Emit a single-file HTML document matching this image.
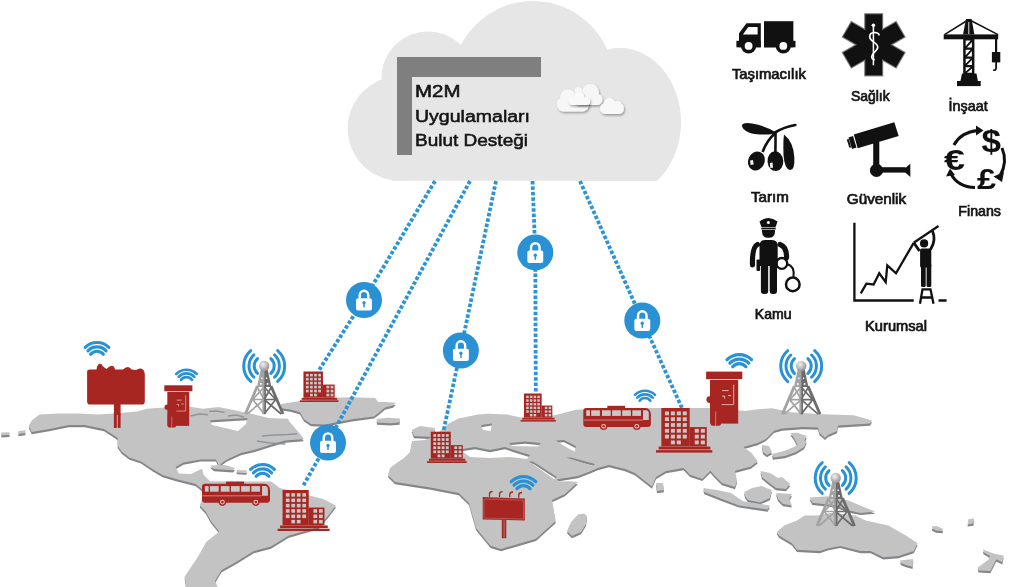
<!DOCTYPE html><html><head><meta charset="utf-8"><style>html,body{margin:0;padding:0;background:#fff;overflow:hidden}svg{display:block;will-change:transform}</style></head><body><svg width="1024" height="587" viewBox="0 0 1024 587"><defs><mask id="mholes" maskUnits="userSpaceOnUse" x="-10" y="300" width="1050" height="300">
<rect x="-10" y="300" width="1050" height="300" fill="#fff"/><path d="M210.0,420.3 L230.0,419.0 L247.5,418.0 L246.0,424.0 L238.0,431.0 L225.0,428.0 L212.0,425.0 Z M462.0,449.0 L475.0,447.0 L490.0,450.0 L505.0,447.0 L520.0,452.0 L530.0,455.0 L527.0,459.0 L510.0,457.0 L490.0,458.0 L470.0,457.0 L463.0,452.0 Z M509.0,443.0 L525.0,441.5 L540.6,443.0 L538.0,446.5 L512.0,446.0 Z M556.0,440.5 L564.0,440.0 L575.8,446.0 L575.0,451.8 L566.0,447.0 Z M529.0,461.5 L533.0,461.5 L557.0,477.0 L554.0,479.0 Z M566.0,457.5 L571.0,457.5 L595.0,464.0 L593.0,466.0 Z M481.0,425.0 L492.0,423.4 L491.0,431.0 L483.0,430.0 Z M556.0,479.5 L578.0,476.0 L594.0,470.0 L580.0,481.0 L560.0,481.5 Z" fill="#000"/></mask>
<g id="land" mask="url(#mholes)"><path d="M31.7,420.4 L39.5,414.5 L59.0,413.6 L78.6,413.6 L98.0,414.5 L113.8,413.6 L137.0,411.6 L147.0,408.7 L160.6,407.7 L190.0,406.7 L203.0,408.8 L218.8,407.0 L250.0,413.4 L268.8,418.0 L288.0,418.8 L289.7,421.9 L300.6,434.4 L303.8,439.0 L285.0,440.6 L269.0,445.3 L253.8,450.0 L241.0,453.0 L227.0,459.4 L222.5,462.5 L219.0,466.0 L216.0,459.4 L200.6,459.4 L183.4,462.5 L175.6,467.0 L178.8,473.4 L191.0,474.0 L202.0,468.8 L203.8,475.0 L210.0,481.2 L271.0,481.6 L279.8,488.0 L323.0,499.0 L336.0,505.4 L329.5,514.0 L318.7,527.0 L288.4,535.7 L271.0,546.5 L253.8,551.0 L236.5,561.7 L221.4,570.3 L215.0,581.0 L219.0,590.0 L186.8,590.0 L184.6,576.8 L197.6,557.3 L206.0,542.2 L219.2,531.4 L210.6,520.6 L206.0,512.0 L199.8,505.4 L202.0,499.0 L203.0,490.0 L195.8,484.0 L176.0,479.0 L162.6,475.0 L152.8,469.2 L141.0,461.4 L129.4,457.5 L121.6,451.6 L117.7,445.8 L117.7,438.0 L111.8,434.0 L104.0,429.0 L84.5,425.0 L68.8,425.0 L49.3,429.0 L31.7,432.0 L28.8,426.0 Z M281.0,404.0 L297.0,401.4 L324.7,398.0 L352.0,397.3 L375.3,398.0 L378.0,402.0 L386.0,402.0 L395.8,402.8 L393.0,405.5 L385.0,407.6 L379.4,412.3 L374.0,416.4 L352.0,419.2 L338.0,422.0 L324.7,424.6 L311.0,424.0 L304.0,419.2 L300.0,412.3 L290.5,409.6 L281.0,408.2 Z M376.6,419.0 L388.0,417.8 L400.0,418.5 L399.5,422.5 L390.0,423.3 L377.0,422.5 Z M1.3,432.6 L9.5,432.2 L9.5,434.8 L1.3,435.2 Z M18.4,431.0 L25.4,430.3 L25.4,433.0 L18.4,434.0 Z M411.7,430.0 L420.0,426.0 L435.0,428.0 L433.0,437.0 L414.0,436.0 Z M388.0,475.0 L390.0,468.0 L398.0,462.0 L404.0,458.0 L410.0,452.0 L412.0,441.0 L425.0,440.0 L432.0,437.0 L440.0,431.0 L448.8,423.4 L458.6,418.6 L478.0,414.6 L488.0,413.7 L507.4,414.6 L521.0,417.6 L540.0,418.0 L558.0,414.6 L575.8,409.8 L600.0,408.8 L640.0,408.0 L720.0,408.0 L745.0,411.0 L757.7,409.2 L772.0,408.2 L790.4,412.3 L823.0,414.3 L853.8,415.3 L872.0,420.4 L870.0,423.5 L838.0,425.6 L837.0,431.0 L828.0,435.0 L825.0,437.8 L819.5,433.0 L818.0,427.6 L802.7,427.0 L782.0,428.6 L774.0,430.7 L766.0,438.9 L757.7,443.0 L743.4,447.0 L751.6,453.0 L757.7,461.3 L751.0,466.6 L735.0,470.7 L737.0,481.0 L735.0,487.0 L722.0,483.0 L714.0,475.0 L710.4,470.7 L702.3,478.9 L690.0,474.8 L683.6,468.0 L666.0,471.0 L656.0,477.0 L652.0,486.6 L634.8,473.0 L625.0,469.0 L609.0,465.0 L597.7,468.0 L578.0,476.9 L556.6,479.8 L578.0,482.0 L565.0,494.0 L552.0,500.0 L555.7,521.0 L536.0,538.7 L501.0,549.0 L490.5,545.7 L476.0,528.0 L469.0,503.0 L458.7,493.0 L430.5,487.5 L395.0,482.0 Z M578.0,514.5 L584.0,513.5 L587.0,516.0 L586.0,524.0 L581.0,532.0 L572.0,536.0 L567.0,531.0 L571.0,522.0 Z M656.0,483.0 L663.0,483.0 L664.0,490.0 L657.0,491.0 Z M806.8,441.0 L804.0,447.0 L796.0,452.0 L785.0,456.0 L773.0,457.5 L772.0,454.0 L784.0,451.0 L796.0,446.0 L801.0,441.0 Z M790.4,433.0 L797.0,432.7 L806.8,436.0 L802.0,445.0 L797.0,444.0 L794.0,438.0 Z M761.8,445.0 L769.0,446.0 L772.0,452.0 L767.0,455.0 L763.0,452.0 Z M703.3,488.0 L717.0,490.0 L731.0,493.0 L743.0,501.3 L769.8,505.4 L767.7,509.5 L739.0,505.4 L722.7,499.3 L704.3,492.1 Z M744.2,492.0 L752.0,488.0 L761.6,486.0 L771.8,490.0 L770.0,498.0 L760.0,502.4 L748.0,500.0 L745.0,496.0 Z M760.5,471.0 L770.0,473.0 L778.0,478.0 L782.0,477.0 L790.2,484.0 L786.0,489.0 L776.0,488.0 L768.0,482.0 L762.0,477.0 Z M776.0,493.0 L792.0,494.0 L789.0,499.0 L792.0,505.4 L783.0,504.0 L778.0,499.0 Z M809.7,497.6 L827.5,496.3 L847.8,500.2 L865.6,507.8 L875.7,511.6 L860.5,512.9 L847.8,510.3 L835.0,505.2 L812.2,502.7 Z M776.7,531.9 L784.3,525.5 L797.0,520.5 L804.6,515.4 L817.3,515.4 L830.0,513.0 L845.0,514.0 L855.4,515.4 L865.6,520.5 L888.4,525.5 L906.2,535.7 L917.6,543.3 L913.8,551.0 L898.6,556.0 L883.3,557.3 L870.7,551.0 L860.5,551.0 L840.2,545.9 L827.5,548.4 L819.9,551.0 L797.0,549.7 L791.9,543.3 L779.2,535.7 Z M900.0,560.5 L913.3,559.0 L912.5,566.7 L906.0,565.0 L901.0,563.0 Z M983.0,549.6 L994.8,554.0 L1003.7,555.6 L1002.2,562.2 L996.3,559.3 L990.4,571.0 L978.5,570.4 L977.8,567.4 L988.9,559.3 L990.0,556.0 L983.5,552.0 Z M932.0,526.5 L937.0,526.0 L943.0,529.0 L942.5,531.0 L936.0,530.5 L932.0,528.5 Z M968.5,519.0 L974.0,518.5 L973.5,523.5 L967.5,524.4 Z M210.0,465.6 L225.0,465.0 L235.0,468.0 L233.0,470.3 L214.0,469.0 Z M236.5,470.0 L247.5,470.5 L246.0,472.5 L237.0,472.0 Z"/></g><clipPath id="cclip"><rect x="0" y="0" width="1024" height="180.8"/></clipPath><filter id="sh" x="-30%" y="-30%" width="160%" height="160%"><feDropShadow dx="1" dy="1.5" stdDeviation="1.2" flood-color="#000" flood-opacity="0.35"/></filter><radialGradient id="ball" cx="0.4" cy="0.35" r="0.7"><stop offset="0" stop-color="#f2f2f2"/><stop offset="1" stop-color="#8a8a8a"/></radialGradient><g id="bld"><g fill="#a82622"><rect x="5.4" y="0" width="28.6" height="39" /><rect x="33.8" y="19.4" width="17.4" height="19.6" /><rect x="2.7" y="39.2" width="52.1" height="2.9" /><rect x="0" y="42.8" width="56.8" height="2.5" /></g><g fill="#c9c6c6"><rect x="9.0" y="3.5" width="4.1" height="3.9"/><rect x="15.0" y="3.5" width="4.1" height="3.9"/><rect x="21.0" y="3.5" width="4.1" height="3.9"/><rect x="27.0" y="3.5" width="4.1" height="3.9"/><rect x="9.0" y="9.4" width="4.1" height="3.9"/><rect x="15.0" y="9.4" width="4.1" height="3.9"/><rect x="21.0" y="9.4" width="4.1" height="3.9"/><rect x="27.0" y="9.4" width="4.1" height="3.9"/><rect x="9.0" y="15.3" width="4.1" height="3.9"/><rect x="15.0" y="15.3" width="4.1" height="3.9"/><rect x="21.0" y="15.3" width="4.1" height="3.9"/><rect x="27.0" y="15.3" width="4.1" height="3.9"/><rect x="9.0" y="21.2" width="4.1" height="3.9"/><rect x="15.0" y="21.2" width="4.1" height="3.9"/><rect x="21.0" y="21.2" width="4.1" height="3.9"/><rect x="27.0" y="21.2" width="4.1" height="3.9"/><rect x="9.0" y="27.1" width="4.1" height="3.9"/><rect x="15.0" y="27.1" width="4.1" height="3.9"/><rect x="21.0" y="27.1" width="4.1" height="3.9"/><rect x="27.0" y="27.1" width="4.1" height="3.9"/><rect x="15.0" y="33.0" width="4.1" height="3.9"/><rect x="21.0" y="33.0" width="4.1" height="3.9"/><rect x="39.1" y="21.2" width="4.1" height="3.9"/><rect x="45.2" y="21.2" width="4.1" height="3.9"/><rect x="39.1" y="27.1" width="4.1" height="3.9"/><rect x="45.2" y="27.1" width="4.1" height="3.9"/><rect x="39.1" y="33.0" width="4.1" height="3.9"/><rect x="45.2" y="33.0" width="4.1" height="3.9"/></g></g><g id="bus">
<rect x="24" y="0" width="17.8" height="2.6" fill="#a82622"/>
<path d="M3,2.1 H62 Q67.6,2.6 67.6,9 V18 Q67.6,21.2 64.5,21.2 H3 Q0,21.2 0,18 V5 Q0,2.1 3,2.1 Z" fill="#a82622"/>
<g fill="#c8c8c8"><rect x="2.9" y="4.5" width="3.7" height="5.6"/><rect x="7.9" y="4.5" width="8.7" height="5.6"/>
<rect x="18.7" y="4.5" width="8.7" height="5.6"/><rect x="28.8" y="4.5" width="8.7" height="5.6"/><rect x="38.9" y="4.5" width="8.7" height="5.6"/>
<rect x="49" y="4.5" width="8.7" height="5.6"/><path d="M59.7,4.5 H63.5 Q65.5,5 65.5,7.5 V14.1 H59.7 Z"/></g>
<rect x="0.5" y="13.8" width="59" height="0.9" fill="#d98e8a"/>
<circle cx="20.3" cy="20.5" r="3.8" fill="#a82622"/><circle cx="53.5" cy="20.5" r="3.8" fill="#a82622"/>
<circle cx="20.3" cy="20.5" r="2.4" fill="#e9c4c2"/><circle cx="53.5" cy="20.5" r="2.4" fill="#e9c4c2"/>
<circle cx="20.3" cy="20.5" r="1.3" fill="#a82622"/><circle cx="53.5" cy="20.5" r="1.3" fill="#a82622"/>
</g><g id="lock"><circle r="18" fill="#2a92d4"/>
<path d="M-4.25,-1.5 V-4.95 A4.25,4.25 0 0 1 4.25,-4.95 V-1.5" fill="none" stroke="#fff" stroke-width="2.4"/>
<rect x="-7.95" y="-1.8" width="15.9" height="12.3" rx="2" fill="#fff"/>
<circle cx="0" cy="2.8" r="1.7" fill="#2a92d4"/><rect x="-0.75" y="3" width="1.5" height="4.4" fill="#2a92d4"/>
</g><g id="tower">
<path d="M13.45,-15.47 A20.5,20.5 0 0 1 13.45,15.47 M-13.45,15.47 A20.5,20.5 0 0 1 -13.45,-15.47 M10.37,-11.12 A15.2,15.2 0 0 1 10.37,11.12 M-10.37,11.12 A15.2,15.2 0 0 1 -10.37,-11.12 M6.69,-7.43 A10,10 0 0 1 6.69,7.43 M-6.69,7.43 A10,10 0 0 1 -6.69,-7.43 " fill="none" stroke="#2a92d4" stroke-width="3" stroke-linecap="round"/>
<path d="M-3.6,4 L0,4 L0,21 L-7.2,21 Z" fill="#a3a3a3"/><path d="M3.6,4 L0,4 L0,21 L7.2,21 Z" fill="#6c6c6c"/>
<g fill="#fff"><rect x="-3" y="11.5" width="1.3" height="1.5"/><rect x="1.7" y="11.5" width="1.3" height="1.5"/>
<rect x="-4.2" y="17" width="1.6" height="1.8"/><rect x="2.6" y="17" width="1.6" height="1.8"/></g>
<g stroke-linecap="butt" fill="none">
<path d="M-6.8,20 L-18.8,48" stroke="#a3a3a3" stroke-width="2.8"/>
<path d="M6.8,20 L18.8,48" stroke="#6c6c6c" stroke-width="2.8"/>
<path d="M-0.9,20 V48" stroke="#a3a3a3" stroke-width="1.8"/><path d="M0.9,20 V48" stroke="#6c6c6c" stroke-width="1.8"/>
<path d="M-7.2,21 L0,33.5 M0,21 L-11.5,33.5 M-11.5,33.5 L0,48 M0,33.5 L-17,48 M-11.5,33.5 H0" stroke="#a3a3a3" stroke-width="1.7"/>
<path d="M7.2,21 L0,33.5 M0,21 L11.5,33.5 M11.5,33.5 L0,48 M0,33.5 L17,48 M11.5,33.5 H0" stroke="#6c6c6c" stroke-width="1.7"/>
</g>
<circle r="5.2" fill="url(#ball)"/>
</g><g id="wifi"><path d="M-12.30,-12.30 A17.4,17.4 0 0 1 12.30,-12.30 M-9.43,-8.80 A12.9,12.9 0 0 1 9.43,-8.80 M-6.62,-5.17 A8.4,8.4 0 0 1 6.62,-5.17 " fill="none" stroke="#2a92d4" stroke-width="3.2" stroke-linecap="round"/></g><g id="kiosk">
<g fill="#a82622">
<rect x="0" y="0" width="36.2" height="7.6"/>
<rect x="3.9" y="8.4" width="28.2" height="43.6"/>
<circle cx="3.7" cy="28" r="3.4"/>
<rect x="4.4" y="36" width="10.5" height="18.2" rx="2"/>
</g>
<path d="M27.6,13 V33 H15.5" fill="none" stroke="#e9b7b4" stroke-width="0.9"/>
<path d="M16,19 H22.5 M22,24 H25 M16,24.5 H18.5 V27" fill="none" stroke="#e9b7b4" stroke-width="1"/>
<path d="M9.6,40 V54" stroke="#d9a09c" stroke-width="0.7"/>
</g></defs><rect width="1024" height="587" fill="#fff"/><g clip-path="url(#cclip)" fill="#e6e6e6">
<circle cx="400" cy="128.5" r="52.3"/><circle cx="428" cy="78" r="46.5"/><circle cx="533" cy="82" r="81"/>
<ellipse cx="620" cy="122" rx="61" ry="74"/><rect x="392" y="100" width="265" height="82"/>
</g><path d="M397,57 H541 V77 H412 V155 H397 Z" fill="#7f7f7f"/><g font-family="Liberation Sans, sans-serif" fill="#141414" stroke="#141414" stroke-width="0.55" font-size="17.4"><text x="415" y="97" textLength="45.5" lengthAdjust="spacingAndGlyphs">M2M</text><text x="415" y="121.8" textLength="115" lengthAdjust="spacingAndGlyphs">Uygulamaları</text><text x="415" y="146.3" textLength="113" lengthAdjust="spacingAndGlyphs">Bulut Desteği</text></g><g filter="url(#sh)" fill="#f7f7f7"><rect x="557" y="98" width="32" height="13.5" rx="6.8"/><circle cx="568" cy="97.5" r="8"/><circle cx="561" cy="103" r="4"/></g><g filter="url(#sh)" fill="#f6f6f6"><rect x="574" y="94" width="28.5" height="11" rx="5.5"/><circle cx="578.5" cy="91" r="4"/><circle cx="590.5" cy="92.5" r="8.5"/></g><g filter="url(#sh)" fill="#f9f9f9"><rect x="568.7" y="97.5" width="21.299999999999955" height="7.5" rx="3.8"/><circle cx="579" cy="97" r="5.2"/><circle cx="573" cy="99.5" r="3.5"/></g><g filter="url(#sh)" fill="#f8f8f8"><rect x="600" y="103" width="24" height="11" rx="5.5"/><circle cx="609.5" cy="104" r="6"/><circle cx="617.5" cy="105" r="4"/></g><use href="#land" fill="#84878a" transform="translate(0,2.2)"/><use href="#land" fill="#c3c3c3"/><g fill="none" stroke="#8d9094" stroke-width="1.4" opacity="0.9"><path d="M190.5,416 L199,414 L208,414.8"/><path d="M209,411.4 L217,411 L224.5,412.5"/><path d="M228,416 L236,415 L244,417"/><path d="M262,436 L275,435 L288,434.5 L297,433.7"/><path d="M257,441 L270,443 L285.5,444"/></g><g fill="none" stroke="#2b93d6" stroke-width="3.8" stroke-dasharray="3.5 1.95"><path d="M435.0,181.0 L364.0,299.5 L318.5,371.0"/><path d="M470.0,181.0 L328.0,442.0 L302.5,487.0"/><path d="M496.0,181.0 L460.5,350.8 L443.5,431.0"/><path d="M532.5,181.0 L535.3,252.4 L535.8,393.0"/><path d="M580.0,181.0 L642.3,320.5 L682.0,408.0"/></g><use href="#lock" transform="translate(364,300)"/><use href="#lock" transform="translate(328,442.6)"/><use href="#lock" transform="translate(460.9,350.5)"/><use href="#lock" transform="translate(535.3,252.4)"/><use href="#lock" transform="translate(642.3,320.5)"/><use href="#bld" transform="translate(299.75,371.5) scale(0.6822,0.6733)"/><use href="#bld" transform="translate(277.6,490) scale(0.9155,0.9051)"/><use href="#bld" transform="translate(427,431.7) scale(0.6989,0.6909)"/><use href="#bld" transform="translate(520.6,393.5) scale(0.6197,0.6203)"/><use href="#bld" transform="translate(656,408) scale(0.9912,0.9845)"/><use href="#bus" transform="translate(202,481.6) scale(1.0059,1.0000)"/><use href="#bus" transform="translate(583.3,405.8) scale(1.0000,1.0000)"/><use href="#tower" transform="translate(264.2,366) scale(1.0)"/><use href="#tower" transform="translate(801.2,366.1) scale(1.0)"/><use href="#tower" transform="translate(835.7,478) scale(1.0)"/><use href="#wifi" transform="translate(97,359.3) scale(0.963)"/><use href="#wifi" transform="translate(186.5,384.2) scale(0.833)"/><use href="#wifi" transform="translate(262.5,481.3) scale(0.963)"/><use href="#wifi" transform="translate(523.5,494.0) scale(1.000)"/><use href="#wifi" transform="translate(645,404.9) scale(0.815)"/><use href="#wifi" transform="translate(739.3,372.0) scale(1.000)"/><use href="#kiosk" transform="translate(164.3,385.3) scale(0.776,0.78)"/><use href="#kiosk" transform="translate(706.1,371.6) scale(1.0,1.0)"/><g fill="#a82622">
<path d="M87.1,372 Q87.1,369.6 90,369.6 L96.5,369.6 Q97,365 99.5,363.8 Q102,363.5 103,366.5 L106.5,369 Q109,366 111.5,365.8 Q114.5,366 115,369.6 L123,369.6 Q125.5,366.8 128,367 Q130.5,367.5 131.5,369.6 L136,370 Q139,368 141,368.5 Q144,369.5 144.2,371.5 L144.8,374 V401.5 Q144.8,404.6 141.8,404.6 H90 Q87.1,404.6 87.1,401.5 Z"/>
<rect x="113.9" y="404" width="6.7" height="11"/><rect x="113.9" y="414" width="2.9" height="13.9"/><rect x="117.7" y="414" width="2.9" height="13.9"/>
</g><g fill="#a82622">
<path d="M482.7,497 L524.8,498.5 V520.4 L482.7,519.5 Z"/>
<rect x="501.8" y="519.5" width="2" height="18.8"/><rect x="504.3" y="519.5" width="2" height="18.8"/>
<path d="M489.5,496.8 V494 Q489.5,491.5 492.5,491.5 M499.5,497 V494 Q499.5,491.7 502.5,491.7 M509.8,497.3 V494.3 Q509.8,492 513,492 M518.8,497.8 V494.8 Q518.8,492.5 522,492.5" stroke="#a82622" stroke-width="1.3" fill="none"/>
</g>
<path d="M484,499 L523.5,500.3 V519 L484,518 Z" fill="none" stroke="#c9706c" stroke-width="0.6"/><g fill="#111">
<rect x="764" y="21.2" width="29.35" height="26.1"/>
<path d="M739,47.3 V33.3 L746.5,23.3 H760.8 V47.3 Z"/>
<rect x="736.4" y="40.8" width="24.4" height="6.5"/><rect x="764" y="40.8" width="31.5" height="6.5"/>
<circle cx="748.6" cy="45.9" r="7.6"/><circle cx="783.3" cy="45.9" r="7.6"/>
</g>
<path d="M748.3,26.9 H757.6 V34.4 H742.9 Z" fill="#fff"/>
<circle cx="748.6" cy="45.9" r="3.9" fill="#fff"/><circle cx="783.3" cy="45.9" r="3.9" fill="#fff"/>
<g transform="translate(873.7,44.8)"><g fill="none" stroke="#777" stroke-width="2.2"><rect x="-8.4" y="-30.5" width="16.8" height="61" transform="rotate(0)"/><rect x="-8.4" y="-30.5" width="16.8" height="61" transform="rotate(60)"/><rect x="-8.4" y="-30.5" width="16.8" height="61" transform="rotate(120)"/></g><g fill="#111"><rect x="-8.4" y="-30.5" width="16.8" height="61" transform="rotate(0)"/><rect x="-8.4" y="-30.5" width="16.8" height="61" transform="rotate(60)"/><rect x="-8.4" y="-30.5" width="16.8" height="61" transform="rotate(120)"/></g><path d="M-0.3,-19 V20.5" stroke="#fff" stroke-width="1.5" fill="none"/><path d="M5.5,-9.5 C5,-13 -4,-14 -4,-8 C-4,-3 5,-2 4,3 C3,7 -2,8 -2,12 C-2,14.5 1,15 1,15" stroke="#fff" stroke-width="1.7" fill="none"/><circle cx="-0.3" cy="-19.5" r="1.8" fill="#fff"/></g><g fill="#111">
<path d="M966,19 H971.6 L974.4,34.5 H963 Z"/>
<rect x="943.7" y="34.4" width="54.5" height="4.9"/>
<path d="M968.8,19.5 L944.5,34.6 M968.8,19.5 L998,34.6" stroke="#111" stroke-width="1.5" fill="none"/>
<rect x="963.2" y="39" width="11.2" height="35"/>
<path d="M965.7,40.6 L970.6,40.6 L965.7,46.2 Z M971.9,41.9 L971.9,47.5 L967,47.5 Z M965.7,49.7 L970.6,49.7 L965.7,55.3 Z M971.9,51.0 L971.9,56.6 L967,56.6 Z M965.7,58.8 L970.6,58.8 L965.7,63.7 Z M971.9,60.1 L971.9,65.0 L967,65.0 Z M965.7,67.2 L970.6,67.2 L965.7,71.4 Z M971.9,68.5 L971.9,72.7 L967,72.7 Z " fill="#fff"/>
<path d="M962,73.6 H976.5 L977.9,81.2 H960.4 Z"/>
<rect x="957" y="81" width="23.7" height="5.1"/>
<rect x="995" y="39" width="2.2" height="13"/>
<rect x="991.9" y="52" width="8.4" height="10.4"/>
<path d="M996.1,62 V67.5 Q996.1,71 993.2,70 " stroke="#111" stroke-width="1.8" fill="none"/>
</g>
<path d="M968.8,22 V34" stroke="#fff" stroke-width="0.9"/><g fill="#111">
<path d="M742.1,124.7 Q744,122 752,123.5 Q766,126 776,132.4 Q772,135 760,134.5 Q748,134 743.5,129 Q741.5,126.5 742.1,124.7 Z"/>
<path d="M775,132.5 Q784,127 795.3,125" stroke="#111" stroke-width="2.7" fill="none" stroke-linecap="round"/>
<path d="M775.5,133 Q767,140 762.6,152" stroke="#111" stroke-width="2.6" fill="none"/>
<path d="M775.5,133 Q775.6,142 775.4,152" stroke="#111" stroke-width="2.6" fill="none"/>
<ellipse cx="756.4" cy="161" rx="8.2" ry="9.8" transform="rotate(22 756.4 161)"/>
<ellipse cx="775.4" cy="161.2" rx="7.9" ry="9.9" transform="rotate(-5 775.4 161.2)"/>
<path d="M784,134.5 Q793.5,142 794.3,157 Q795,170.5 790,170 Q784.5,169 783.5,155 Q783,141 784,134.5 Z"/>
<path d="M750,160.5 L753,160 L753.7,164.5 L750.6,165 Z M769.8,163 L772.6,162.5 L773,167.8 L770.3,168 Z" fill="#eee"/>
</g><g fill="#111">
<path d="M853.8,134.4 L894.3,122.2 L898.7,136 L857.7,148.2 Z"/>
<path d="M848.5,137.5 L853,136 L856.5,147.5 L852,149 Z"/>
<path d="M846.8,139.5 L848.6,139 L851.2,147.3 L849.4,147.8 Z"/>
<rect x="873.2" y="142" width="6.1" height="27"/>
<circle cx="876.5" cy="170.4" r="6.6"/>
<rect x="876.5" y="167.2" width="29" height="5.4"/>
<path d="M904.2,169 L910.3,163.7 V177 L904.2,171.5 Z"/>
</g><g font-family="Liberation Sans, sans-serif" font-weight="bold" fill="#111">
<text x="981.5" y="151.5" font-size="32" textLength="19.5" lengthAdjust="spacingAndGlyphs">$</text>
<text x="944" y="169.5" font-size="29" textLength="21" lengthAdjust="spacingAndGlyphs">€</text>
<text x="977" y="189" font-size="29.5" textLength="19" lengthAdjust="spacingAndGlyphs">£</text>
</g>
<g fill="none" stroke="#111" stroke-width="3">
<path d="M953.9,145 Q961,132 978,130.5"/><path d="M1002,148 Q1008,162 1000,176"/><path d="M975,187.6 Q958,187 951,174"/>
</g>
<g fill="#111"><path d="M976,125.5 L983.5,130.5 L976,135.5 Z"/><path d="M993.5,176.5 L1002,182 L1004,172 Z"/><path d="M946,176.5 L950,168.5 L955,175 Z"/></g><g fill="#111">
<path d="M759.5,221.5 Q768.5,214.5 777.5,221.5 L775.5,227.3 H761.5 Z"/>
<rect x="761.3" y="227.8" width="14.4" height="1.6"/>
<path d="M762,230 H775 V231.5 Q775,237.8 768.5,237.8 Q762,237.8 762,231.5 Z"/>
</g>
<circle cx="768.4" cy="222.6" r="1.5" fill="#fff"/>
<g fill="none" stroke-linecap="round">
<path d="M757.5,244.5 Q752,247 752.5,265" stroke="#fff" stroke-width="7.5"/>
<path d="M780,244.5 Q787,247 786.5,258" stroke="#fff" stroke-width="7.5"/>
<path d="M757.5,244.5 Q752,247 752.5,265" stroke="#111" stroke-width="5.2"/>
<path d="M780,244.5 Q787,247 786.5,258" stroke="#111" stroke-width="5.2"/>
</g>
<g fill="#111">
<path d="M759.5,266 V246 Q759.5,240 765,240 H772 Q777.7,240 777.7,246 V266 Z"/>
<rect x="760.9" y="262" width="7.3" height="32" rx="3"/><rect x="769.7" y="262" width="7.3" height="32" rx="3"/>
<rect x="756.5" y="259.5" width="3.6" height="11.5" rx="1"/>
</g>
<g fill="none" stroke="#111">
<circle cx="781.8" cy="263.4" r="5.4" stroke-width="2.3"/><circle cx="792.8" cy="284.4" r="6.8" stroke-width="2.5"/>
<path d="M787,264 Q795,266 793.5,277" stroke-width="2"/>
</g><g fill="none" stroke="#111" stroke-width="2.3">
<path d="M854.4,222.8 V300.5 H913.7"/>
<path d="M860.8,293.3 L866.4,283.7 L873.6,284.5 L879.25,273.3 L885.7,282.1 L887.3,265.3 L896,273.3 L913.7,242.8"/>
<path d="M913.7,242.8 L938.5,226"/>
<path d="M919.5,251 L914,243" stroke-width="2.8"/><path d="M930.5,249.5 Q936.5,240 932.5,231" stroke-width="2.8"/>
<path d="M920,303.7 L922.5,289.3 H930.5 L933.5,303.7 M921,297.5 H932.5 M938.5,300.5 H946.6"/>
</g>
<g fill="#111"><circle cx="924.1" cy="243.4" r="4.1"/><rect x="920.1" y="248.5" width="11.2" height="19" rx="1.5"/>
<rect x="921" y="264" width="4.7" height="23" rx="1.5"/><rect x="926.6" y="264" width="4.7" height="23" rx="1.5"/></g><g font-family="Liberation Sans, sans-serif" fill="#141414" stroke="#141414" stroke-width="0.7" font-size="14.2"><text x="731.9" y="78.65" textLength="74" lengthAdjust="spacingAndGlyphs">Taşımacılık</text><text x="850.9" y="100.6" textLength="38.8" lengthAdjust="spacingAndGlyphs">Sağlık</text><text x="948.6" y="111.25" textLength="39.1" lengthAdjust="spacingAndGlyphs">İnşaat</text><text x="751" y="202.1" textLength="37.8" lengthAdjust="spacingAndGlyphs">Tarım</text><text x="846.8" y="204" textLength="59.3" lengthAdjust="spacingAndGlyphs">Güvenlik</text><text x="958.3" y="215.8" textLength="42.7" lengthAdjust="spacingAndGlyphs">Finans</text><text x="754.8" y="318.6" textLength="36.7" lengthAdjust="spacingAndGlyphs">Kamu</text><text x="865.1" y="331.25" textLength="61.9" lengthAdjust="spacingAndGlyphs">Kurumsal</text></g></svg></body></html>
